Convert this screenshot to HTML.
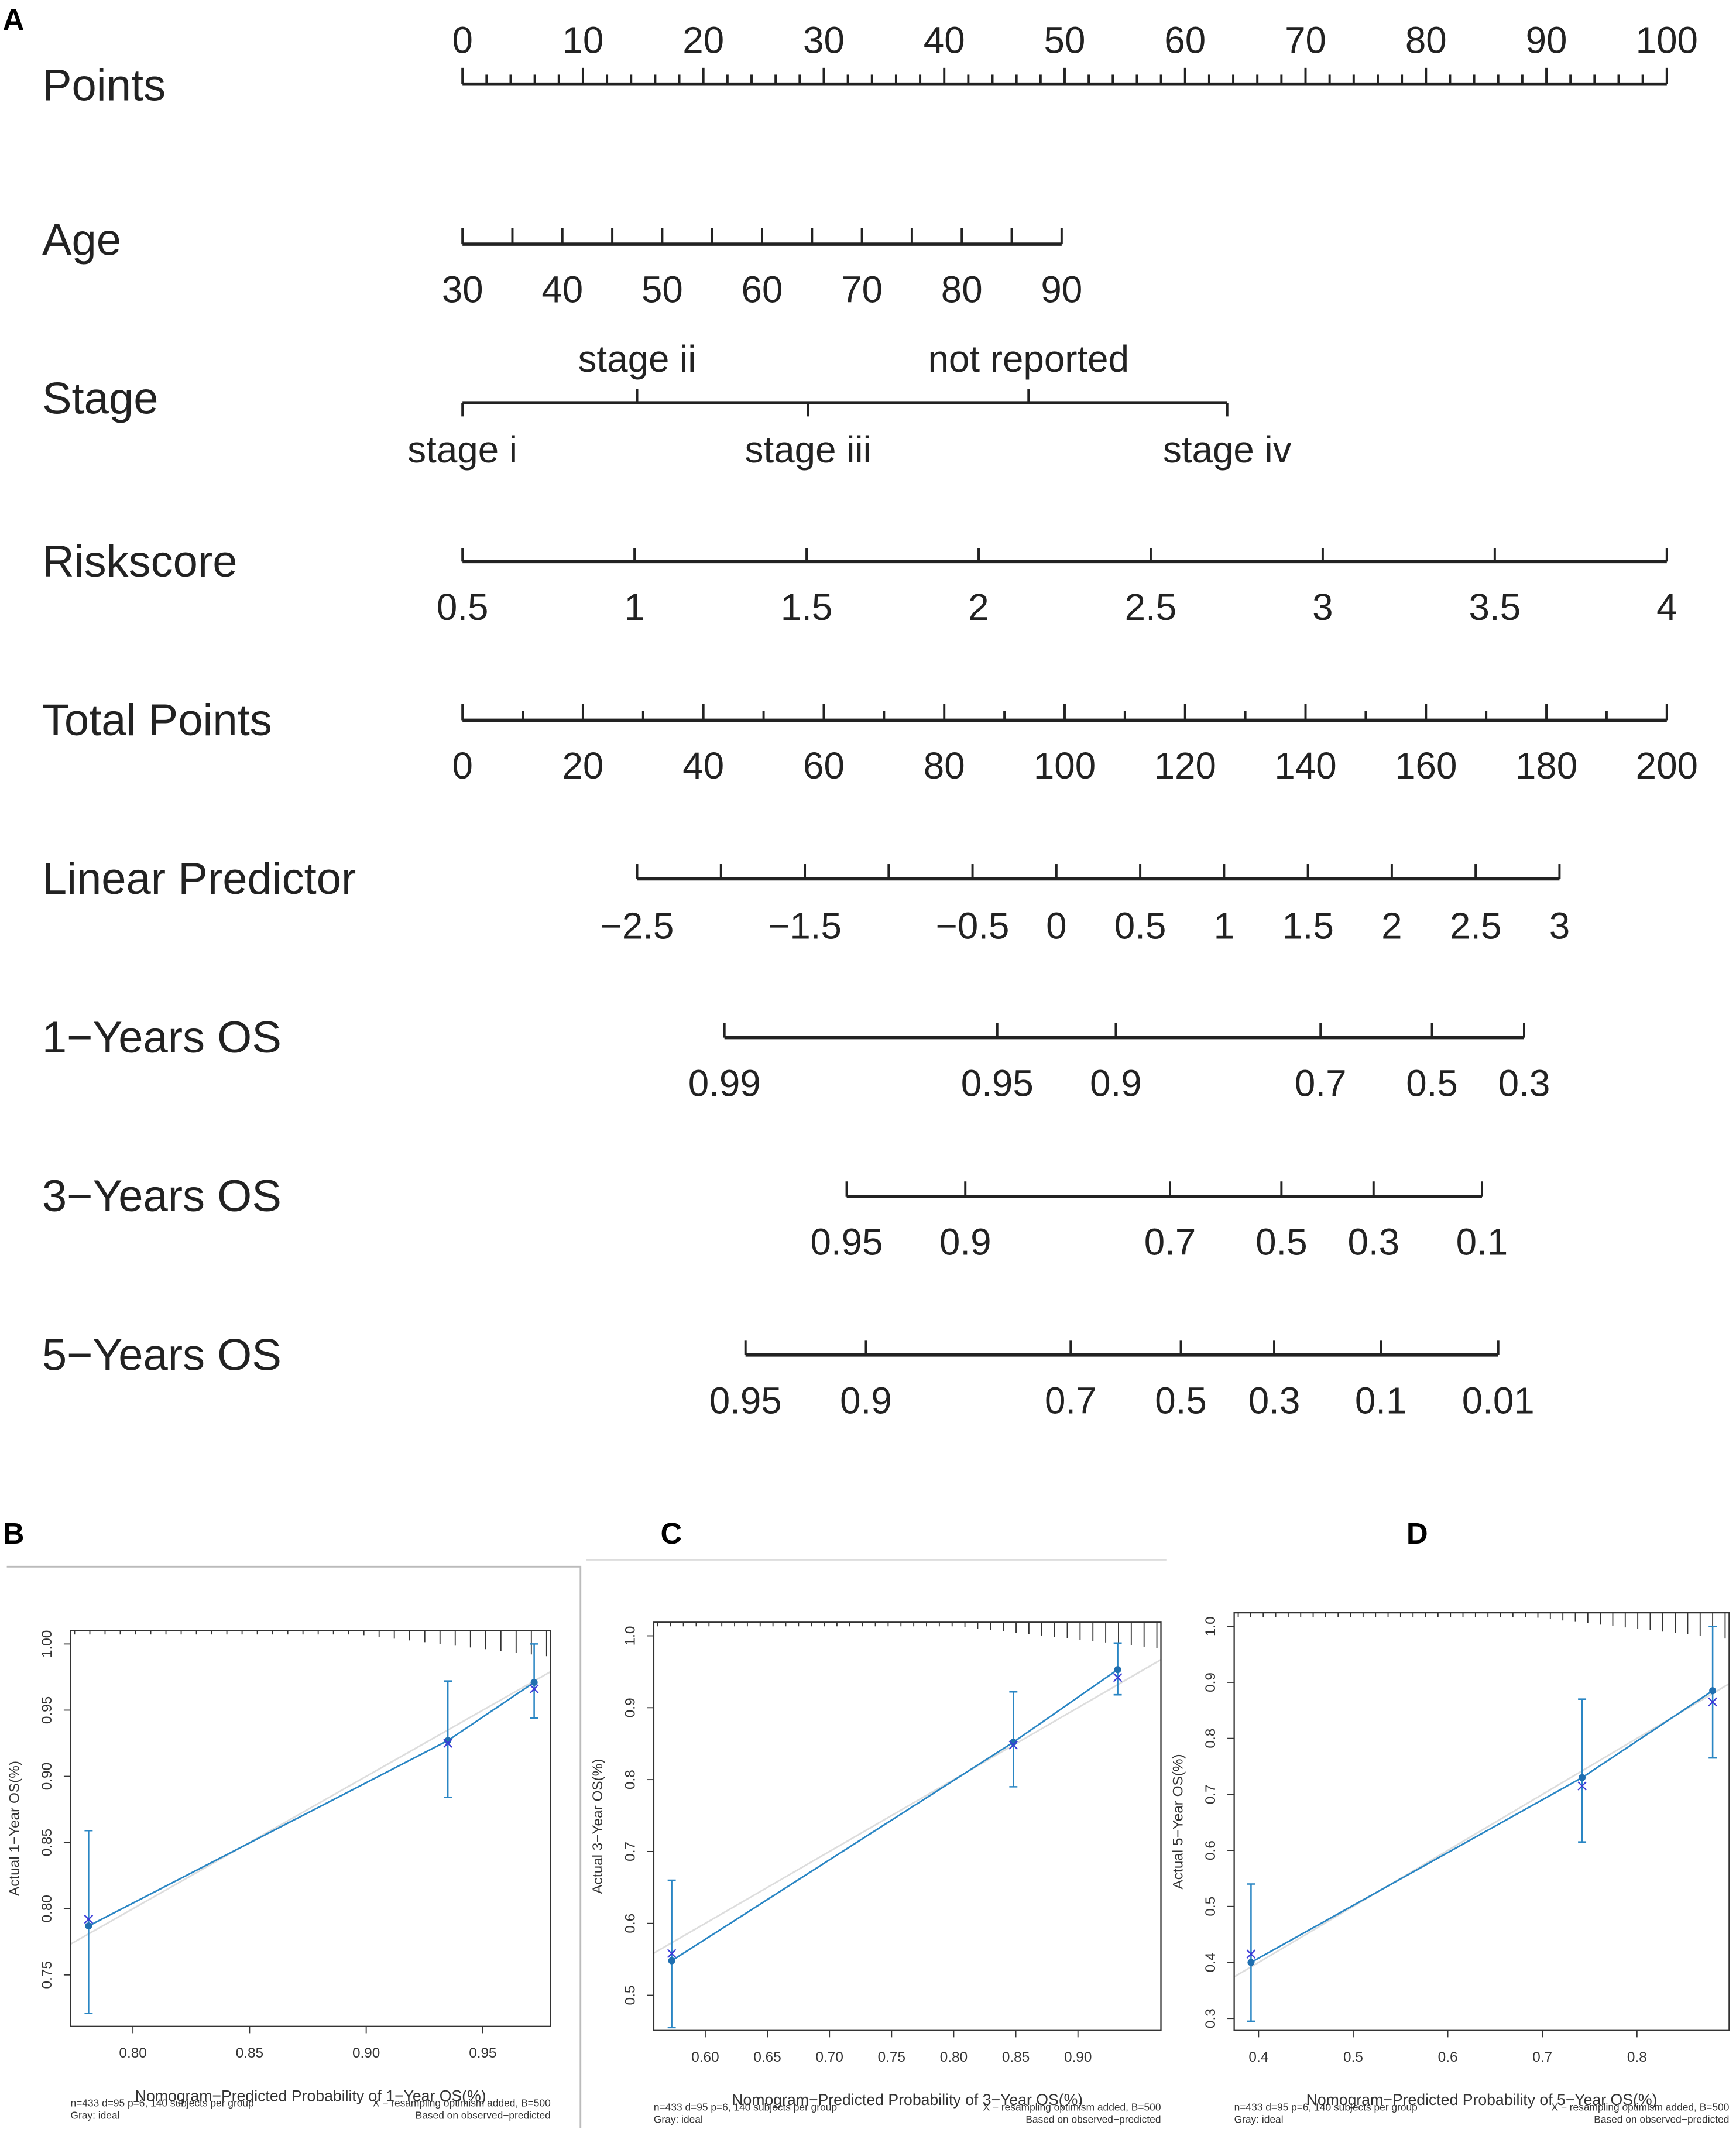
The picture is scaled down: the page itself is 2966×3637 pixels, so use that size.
<!DOCTYPE html>
<html><head><meta charset="utf-8">
<style>
html,body{margin:0;padding:0;background:#fff;}
svg{display:block;font-family:"Liberation Sans",sans-serif;}
</style></head>
<body>
<svg id="fig" width="2966" height="3637" viewBox="0 0 1280 1569.6" xmlns="http://www.w3.org/2000/svg">
<text x="2" y="22" font-size="22" font-weight="bold">A</text>
<text x="2" y="1138" font-size="22" font-weight="bold">B</text>
<text x="487" y="1138" font-size="22" font-weight="bold">C</text>
<text x="1037" y="1138" font-size="22" font-weight="bold">D</text>
<polyline points="5,1155 428,1155 428,1569" fill="none" stroke="#bbb" stroke-width="1.2"/>
<line x1="432" y1="1150" x2="860" y2="1150" stroke="#ddd" stroke-width="1"/>
<g id="nomo"></g>
<g id="cal"></g>
</svg>
<script>
// ---- Nomogram data ----
const pointsTicks=[0,10,20,30,40,50,60,70,80,90,100];
const ageTicks=[30,40,50,60,70,80,90];
const riskTicks=[0.5,1,1.5,2,2.5,3,3.5,4];
const totalTicks=[0,20,40,60,80,100,120,140,160,180,200];
const lpLabels=["-2.5","-1.5","-0.5","0","0.5","1","1.5","2","2.5","3"];
const lpTickVals=[-2.5,-2,-1.5,-1,-0.5,0,0.5,1,1.5,2,2.5,3];
const stageNames=["stage i","stage ii","stage iii","not reported","stage iv"];
const stagePoints=[0,14.5,28.7,47,63.5];
const os1Labels=["0.99","0.95","0.9","0.7","0.5","0.3"];
const os1Total=[43.5,88.8,108.5,142.5,161,176.3];
const os3Labels=["0.95","0.9","0.7","0.5","0.3","0.1"];
const os3Total=[63.8,83.5,117.5,136,151.3,169.3];
const os5Labels=["0.95","0.9","0.7","0.5","0.3","0.1","0.01"];
const os5Total=[47,67,101,119.3,134.8,152.5,172];

const NS="http://www.w3.org/2000/svg";
const X0=341,X1=1229;
const ptX=p=>X0+(X1-X0)*p/100;
const totX=t=>X0+(X1-X0)*t/200;
function el(tag,attrs,parent,text){const e=document.createElementNS(NS,tag);for(const k in attrs)e.setAttribute(k,attrs[k]);if(text!==undefined)e.textContent=text;parent.appendChild(e);return e;}
const nomo=document.getElementById('nomo');
function row(label,y,name){
  const t=el('text',{x:31,y:y+11,'font-size':32.8,fill:'#222'},nomo,label);
  
  
}
function axisLine(x1,x2,y,name){
  const l=el('line',{x1:x1,x2:x2,y1:y,y2:y,stroke:'#222','stroke-width':2.4},nomo);
  
  
}
function tick(x,y,len,up){el('line',{x1:x,x2:x,y1:y,y2:up?y-len:y+len,stroke:'#222','stroke-width':1.7},nomo);}
function lab(x,y,s,name){
  const t=el('text',{x:x,y:y,'font-size':27.5,'text-anchor':'middle',fill:'#222'},nomo,s);
  
  
}
// Points
row('Points',63,'points');
axisLine(X0,X1,62,'points');
for(let p=0;p<=100;p+=2){tick(ptX(p),62,p%10===0?12:7,true);}
pointsTicks.forEach(p=>lab(ptX(p),39,String(p),'points-tick-'+p));
// Age
const ageX=a=>ptX((a-30)*49.75/60);
row('Age',177,'age');
axisLine(ageX(30),ageX(90),180,'age');
for(let a=30;a<=90;a+=5)tick(ageX(a),180,12,true);
ageTicks.forEach(a=>lab(ageX(a),223,String(a),'age-tick-'+a));
// Stage
row('Stage',294,'stage');
axisLine(ptX(0),ptX(63.5),297,'stage');
stageNames.forEach((s,i)=>{const x=ptX(stagePoints[i]);const up=(i===1||i===3);tick(x,297,10,up);lab(x,up?274:341,s,'stage-'+s.replace(/ /g,'-'));});
// Riskscore
const riskX=r=>ptX((r-0.5)/3.5*100);
row('Riskscore',414,'riskscore');
axisLine(riskX(0.5),riskX(4),414,'riskscore');
riskTicks.forEach(r=>{tick(riskX(r),414,10,true);lab(riskX(r),457,String(r),'riskscore-tick-'+r);});
// Total points
row('Total Points',531,'total-points');
axisLine(X0,X1,531,'total-points');
for(let t=0;t<=200;t+=10)tick(totX(t),531,t%20===0?12:7,true);
totalTicks.forEach(t=>lab(totX(t),574,String(t),'total-tick-'+t));
// Linear predictor
const lpX=v=>totX(29+(v+2.5)*27.85);
row('Linear Predictor',648,'linear-predictor');
axisLine(lpX(-2.5),lpX(3),648,'linear-predictor');
lpTickVals.forEach(v=>tick(lpX(v),648,11,true));
lpLabels.forEach(s=>lab(lpX(parseFloat(s)),692,s.replace('-','\u2212'),'lp-tick-'+s));
// OS rows
function osRow(label,y,labels,totals,name){
  row(label,y,name);
  axisLine(totX(totals[0]),totX(totals[totals.length-1]),y,name);
  totals.forEach((t,i)=>{tick(totX(t),y,11,true);lab(totX(t),y+43,labels[i],name+'-tick-'+labels[i]);});
}
osRow('1\u2212Years OS',765,os1Labels,os1Total,'os-1y');
osRow('3\u2212Years OS',882,os3Labels,os3Total,'os-3y');
osRow('5\u2212Years OS',999,os5Labels,os5Total,'os-5y');

// ---- Calibration data ----
const bPred=[0.781,0.935,0.972];
const bObs=[0.787,0.927,0.971];
const bCorr=[0.792,0.925,0.966];
const bLo=[0.721,0.884,0.944];
const bHi=[0.859,0.972,1.0];
const cPred=[0.573,0.848,0.932];
const cObs=[0.548,0.852,0.953];
const cCorr=[0.558,0.848,0.942];
const cLo=[0.455,0.790,0.918];
const cHi=[0.660,0.922,0.990];
const dPred=[0.392,0.742,0.880];
const dObs=[0.400,0.730,0.885];
const dCorr=[0.415,0.715,0.865];
const dLo=[0.295,0.615,0.765];
const dHi=[0.540,0.870,1.000];
const bXTicks=["0.80","0.85","0.90","0.95"];
const bYTicks=["0.75","0.80","0.85","0.90","0.95","1.00"];
const cXTicks=["0.60","0.65","0.70","0.75","0.80","0.85","0.90"];
const cYTicks=["0.5","0.6","0.7","0.8","0.9","1.0"];
const dXTicks=["0.4","0.5","0.6","0.7","0.8"];
const dYTicks=["0.3","0.4","0.5","0.6","0.7","0.8","0.9","1.0"];

const cal=document.getElementById('cal');
function panel(cfg){
  const g=el('g',{},cal);
  
  
  const sx=v=>cfg.xa+(v-cfg.xv0)*cfg.xs;
  const sy=v=>cfg.ya-(v-cfg.yv0)*cfg.ys;
  const B=cfg.box;
  el('line',{x1:B[0],y1:sy((B[0]-cfg.xa)/cfg.xs+cfg.xv0),x2:B[2],y2:sy((B[2]-cfg.xa)/cfg.xs+cfg.xv0),stroke:'#ddd','stroke-width':1.2},g);
  const fr=el('rect',{x:B[0],y:B[1],width:B[2]-B[0],height:B[3]-B[1],fill:'none',stroke:'#333','stroke-width':1},g);
  
  
  for(let i=0;i<cfg.rugN;i++){const f=i/(cfg.rugN-1);const x=B[0]+3+f*(B[2]-B[0]-6);const len=f<0.6?3:3+(f-0.6)*40;el('line',{x1:x,x2:x,y1:B[1],y2:B[1]+len,stroke:'#333','stroke-width':0.8},g);}
  cfg.xt.forEach(s=>{const x=sx(parseFloat(s));el('line',{x1:x,x2:x,y1:B[3],y2:B[3]+5,stroke:'#333','stroke-width':0.8},g);
    const t=el('text',{x:x,y:B[3]+23,'font-size':10.5,'text-anchor':'middle',fill:'#333'},g,s);
    
    });
  cfg.yt.forEach(s=>{const y=sy(parseFloat(s));el('line',{x1:B[0],x2:B[0]-5,y1:y,y2:y,stroke:'#333','stroke-width':0.8},g);
    const t=el('text',{x:B[0]-14,y:y,'font-size':10.5,'text-anchor':'middle',fill:'#333',transform:`rotate(-90 ${B[0]-14} ${y})`},g,s);
    
    });
  const yt=el('text',{x:B[0]-38,y:(B[1]+B[3])/2,'font-size':10.5,'text-anchor':'middle',fill:'#333',transform:`rotate(-90 ${B[0]-38} ${(B[1]+B[3])/2})`},g,cfg.ylab);
  
  
  const xt=el('text',{x:(B[0]+B[2])/2,y:B[3]+55,'font-size':11.5,'text-anchor':'middle',fill:'#333'},g,cfg.xlab);
  
  
  el('text',{x:B[0],y:B[3]+59,'font-size':7.5,fill:'#333'},g,'n=433 d=95 p=6, 140 subjects per group');
  el('text',{x:B[0],y:B[3]+68,'font-size':7.5,fill:'#333'},g,'Gray: ideal');
  el('text',{x:B[2],y:B[3]+59,'font-size':7.5,fill:'#333','text-anchor':'end'},g,'X \u2212 resampling optimism added, B=500');
  el('text',{x:B[2],y:B[3]+68,'font-size':7.5,fill:'#333','text-anchor':'end'},g,'Based on observed\u2212predicted');
  const col='#2a86c4';
  const pl=el('polyline',{points:cfg.pred.map((p,i)=>sx(p)+','+sy(cfg.obs[i])).join(' '),fill:'none',stroke:col,'stroke-width':1.2},g);
  
  
  cfg.pred.forEach((p,i)=>{
    const x=sx(p);
    const e=el('path',{d:`M${x},${sy(cfg.lo[i])}V${sy(cfg.hi[i])}M${x-3},${sy(cfg.lo[i])}h6M${x-3},${sy(cfg.hi[i])}h6`,stroke:col,'stroke-width':1.1,fill:'none'},g);
    
    
    const c=el('circle',{cx:x,cy:sy(cfg.obs[i]),r:2.6,fill:'#1f6fb0'},g);
    
    
    const y=sy(cfg.corr[i]);
    const m=el('path',{d:`M${x-3},${y-3}l6,6M${x-3},${y+3}l6,-6`,stroke:'#3a3ad8','stroke-width':1},g);
    
    
  });
}
panel({name:'calibration-1-year',box:[52,1202,406,1494],xa:98,xv0:0.80,xs:86/0.05,ya:1212,yv0:1.0,ys:48.8/0.05,
  xt:bXTicks,yt:bYTicks,pred:bPred,obs:bObs,corr:bCorr,lo:bLo,hi:bHi,rugN:32,
  ylab:'Actual 1\u2212Year OS(%)',xlab:'Nomogram\u2212Predicted Probability of 1\u2212Year OS(%)'});
panel({name:'calibration-3-year',box:[482,1196,856,1497],xa:520,xv0:0.60,xs:45.8/0.05,ya:1206,yv0:1.0,ys:530,
  xt:cXTicks,yt:cYTicks,pred:cPred,obs:cObs,corr:cCorr,lo:cLo,hi:cHi,rugN:40,
  ylab:'Actual 3\u2212Year OS(%)',xlab:'Nomogram\u2212Predicted Probability of 3\u2212Year OS(%)'});
panel({name:'calibration-5-year',box:[910,1189,1275,1497],xa:928,xv0:0.4,xs:697.5,ya:1199,yv0:1.0,ys:413,
  xt:dXTicks,yt:dYTicks,pred:dPred,obs:dObs,corr:dCorr,lo:dLo,hi:dHi,rugN:40,
  ylab:'Actual 5\u2212Year OS(%)',xlab:'Nomogram\u2212Predicted Probability of 5\u2212Year OS(%)'});
</script>
</body></html>
